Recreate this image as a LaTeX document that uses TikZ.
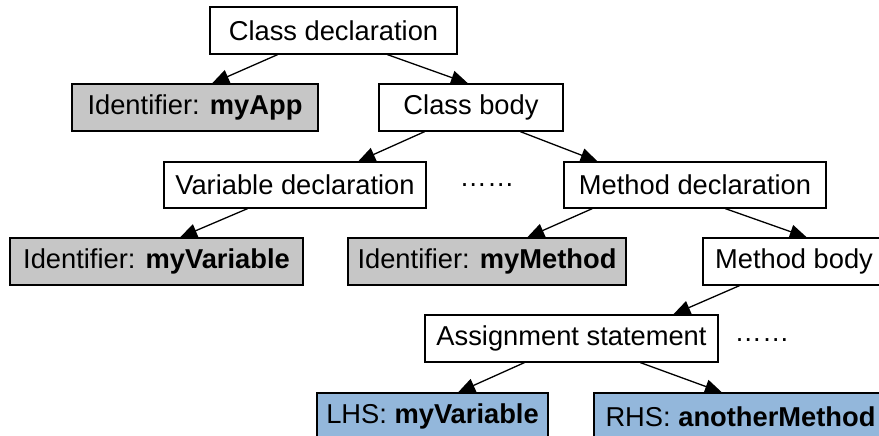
\documentclass[tikz,border=0pt]{standalone}
\usepackage{fontspec}
\setmainfont{Liberation Sans}
\usetikzlibrary{calc,arrows.meta}
\definecolor{idgray}{RGB}{198,198,198}
\definecolor{hsblue}{RGB}{147,183,219}
\begin{document}
\begin{tikzpicture}[x=1pt,y=-1pt,
  box/.style={draw=black,line width=1.2pt,fill=white,minimum height=47pt,inner sep=0pt,
    font=\fontsize{27.3}{32}\selectfont},
  idbox/.style={box,fill=idgray},
  hsbox/.style={box,fill=hsblue},
  dotsnode/.style={inner sep=0pt,font=\fontsize{27.3}{32}\selectfont},
  arr/.style={line width=1.3pt,-{Triangle[length=17pt,width=14pt]}}]
\useasboundingbox (0,0) rectangle (879,436);
\node[box,minimum width=247pt] (cd) at (333.5,30.5) {Class declaration};
\node[idbox,minimum width=246pt] (id1) at (195,107.5) {Identifier: \textbf{myApp}};
\node[box,minimum width=184pt] (cb) at (471,107.5) {Class body};
\node[box,minimum width=262pt,minimum height=46pt] (vd) at (295,185) {Variable declaration};
\node[dotsnode] (d1) at (487,185) {……};
\node[box,minimum width=262pt,minimum height=46pt] (md) at (695,185) {Method declaration};
\node[idbox,minimum width=293pt] (id2) at (156.5,261.5) {Identifier: \textbf{myVariable}};
\node[idbox,minimum width=278pt] (id3) at (487,261.5) {Identifier: \textbf{myMethod}};
\node[box,minimum width=182pt] (mb) at (794,261.5) {Method body};
\node[box,minimum width=293pt] (as) at (571.5,338.5) {Assignment statement};
\node[dotsnode] (d2) at (762,340) {……};
\node[hsbox,minimum width=231pt] (lhs) at (432.5,416.5) {LHS: \textbf{myVariable}};
\node[hsbox,minimum width=293pt] (rhs) at (740.5,416.5) {RHS: \textbf{anotherMethod}};
\draw[arr] ($(cd.south west)!0.275!(cd.south east)$) -- ($(id1.north west)!0.569!(id1.north east)$);
\draw[arr] ($(cd.south west)!0.717!(cd.south east)$) -- ($(cb.north west)!0.484!(cb.north east)$);
\draw[arr] ($(cb.south west)!0.25!(cb.south east)$) -- ($(vd.north west)!0.74!(vd.north east)$);
\draw[arr] ($(cb.south west)!0.766!(cb.south east)$) -- ($(md.north west)!0.13!(md.north east)$);
\draw[arr] ($(vd.south west)!0.32!(vd.south east)$) -- ($(id2.north west)!0.58!(id2.north east)$);
\draw[arr] ($(md.south west)!0.11!(md.south east)$) -- ($(id3.north west)!0.644!(id3.north east)$);
\draw[arr] ($(md.south west)!0.615!(md.south east)$) -- ($(mb.north west)!0.57!(mb.north east)$);
\draw[arr] ($(mb.south west)!0.203!(mb.south east)$) -- ($(as.north west)!0.846!(as.north east)$);
\draw[arr] ($(as.south west)!0.34!(as.south east)$) -- ($(lhs.north west)!0.61!(lhs.north east)$);
\draw[arr] ($(as.south west)!0.734!(as.south east)$) -- ($(rhs.north west)!0.437!(rhs.north east)$);
\end{tikzpicture}
\end{document}
